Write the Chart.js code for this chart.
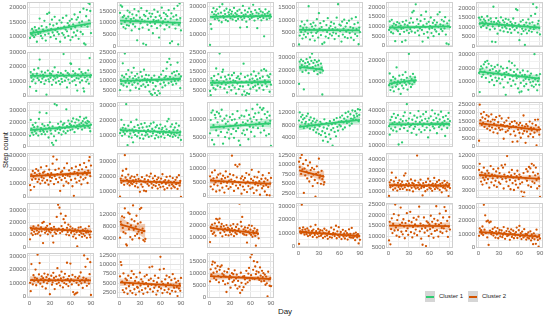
<!DOCTYPE html>
<html>
<head>
<meta charset="utf-8">
<script src="https://cdn.jsdelivr.net/npm/chart.js@4.4.1/dist/chart.umd.min.js"></script>
<style>
  body { margin: 0; background: #fff; font-family: "Liberation Sans", Arial, sans-serif; }
  #wrap { position: relative; width: 546px; height: 317px; overflow: hidden; }
  .axis-title { position: absolute; font-size: 7.5px; color: #1a1a1a; white-space: nowrap; }
  #ytitle { left: 4.5px; top: 150px; transform: translate(-50%, -50%) rotate(-90deg); }
  #xtitle { left: 285px; top: 311px; transform: translate(-50%, -50%); font-size: 8px; }
  .key { position: absolute; top: 291px; width: 10px; height: 11px; background: #d6d6d6; }
  .key span { position: absolute; left: 1px; right: 1px; top: 4.5px; height: 2px; }
  .keytxt { position: absolute; top: 293px; font-size: 6px; color: #1a1a1a; line-height: 7px; }
</style>
</head>
<body>
<div id="wrap">
  <div class="axis-title" id="ytitle">Step count</div>
  <div class="axis-title" id="xtitle">Day</div>
  <div class="key" style="left:425px"><span style="background:#2ecc71"></span></div>
  <div class="keytxt" style="left:439px">Cluster 1</div>
  <div class="key" style="left:468px"><span style="background:#d35400"></span></div>
  <div class="keytxt" style="left:482px">Cluster 2</div>
</div>
<script>
// daily step counts, one array per participant (day 1, 2, 3, ...)
const s01 = [9500,11200,10800,12600,10400,11800,9800,13200,10600,12100, 8200,11500,10900,12800,16200,11300,10200,13600,9400,12400, 11800,15400,10600,8600,13200,17800,12100,11000,18200,14200, 9800,12600,15800,11400,13800,10400,16800,12200,9200,14400, 11600,13000,10800,15600,8200,12800,14800,11200,16400,10600, 13400,9600,12400,17200,11800,14600,10200,13800,15400,8800, 12600,16000,9800,14200,11400,17600,13200,10400,15800,12000, 16600,9200,14800,18400,11600,13600,15200,10800,19600,7600, 14000,7200,17000,19200,13400,21600,15600,21200,18800,11200];
const s02 = [14200,17400,9600,16800,12400,8200,13000,10400,7600,11800, 9000,15200,12600,8800,14400,10200,11600,6800,13600,9400, 12000,15800,8400,11000,13200,2600,10800,14800,7400,12200, 9800,16200,11400,8000,1200,13400,10600,12800,700,15000, 9200,11800,7000,14000,10000,12600,8600,13800,5600,11200, 15600,9600,12400,10800,7800,14600,11000,3800,13000,8800, 12000,16400,9800,10600,14200,7200,11600,13600,9000,12800, 10400,15400,8200,1400,11800,14000,2200,9400,12600,16000, 10000,7600,13200,11400,17200,900,9200,18200,12000,6800];
const s03 = [2500,17200,13800,25800,22400,28600,24200,20800,26400,23600, 27800,21200,24800,19800,29600,22600,25400,18600,31400,23000, 21800,26800,24400,20200,28200,22800,19400,25600,23800,27400, 21400,24600,26200,20600,23400,28800,22200,25000,19600,24000, 26600,21000,23200,27600,14800,22000,25200,20400,30200,23600, 21600,27000,24200,19000,15200,25800,22400,28400,20800,23800, 26000,21800,24600,31000,22600,19800,27200,23000,25400,14400, 21200,24800,28000,22200,26400,20000,23400,25600,21600,8600, 24400,27800,22800,20600,25000,23200,26200,21400,24000,22600];
const s04 = [200,3800,7600,5200,9400,2600,6800,4200,8200,5600, 3200,7000,9800,4600,15600,6200,2200,8400,5000,7400, 3600,9000,6400,1800,7800,4800,10400,5400,3000,12800, 6600,8800,4000,7200,400,5800,9600,1000,6000,3400, 8000,5200,10800,2800,6800,4400,7600,9200,3800,6400, 5000,8600,2400,7000,4600,11000,6200,16400,3600,8200, 5600,7800,1400,9400,4200,6600,10200,3200,7400,5400, 8800,2800,6000,9800,4800,7200,3000,10600,5800,6800, 2000,8400,4400,11200,6400,3600,9000,300,7000,5200];
const s05 = [8200,12600,9400,7000,13400,10200,6400,11400,9000,2400, 10800,8400,12200,7600,9800,11600,6000,10400,8800,2000, 12400,9200,7200,11000,2800,13000,8000,10600,9600,6600, 11800,8600,14200,7400,17200,12000,18000,9400,6800,21400, 10000,13600,7800,11200,5400,9000,12800,15800,8200,2200, 10600,6200,13800,9600,17600,11400,7000,4200,12400,8800, 10200,14600,6600,9200,11800,5000,13200,8400,10800,7400, 12000,16200,9800,6000,17400,11000,8600,13400,7600,10400, 12600,9000,14800,5800,1200,11600,10000,800,13000,9600];
const s06 = [14800,11600,13800,9800,15200,12400,10600,14000,11200,13200, 12000,9400,15600,10800,13600,11400,8600,14400,12800,2200, 10200,20600,12600,9000,2000,14600,11800,6400,13000,10400, 12200,8200,15000,11000,9600,13400,7600,12400,10000,14200, 9200,11600,7200,13800,10800,8800,12600,6800,11400,9800, 14400,10600,8400,12000,19400,9400,18800,7000,11200,3000, 10200,12800,6200,9000,13600,7800,11000,500,8600,12200, 6600,10400,14000,8000,11800,9200,15800,7400,12400,22000, 8800,10600,16800,9600,20200,7000,11600,13200,9400,6000];
const s07 = [6000,16200,12400,9800,14600,11000,17800,13200,8400,3200, 15000,12000,18800,10600,24800,13800,9200,16400,11600,14200, 12800,8000,15800,10400,600,13400,17200,11200,9600,15200, 12200,14800,7400,16600,10800,13000,19400,11800,8800,14000, 12600,16000,10000,13600,7800,15400,11400,9400,14400,28600, 13200,10200,17000,12400,5600,15600,11000,14600,8600,22200, 21800,12800,9800,16800,13800,10600,15200,7200,12000,3400, 14200,11600,18200,9000,13000,16200,10400,14800,5000,2800, 12400,15600,9600,13600,11000,17400,8200,25800,12800,14000];
const s08 = [5000,10400,8200,12600,19200,7400,11800,24400,9000,13400, 6800,10800,15600,8600,12000,4800,9600,14200,7800,11200, 16800,9000,12400,6200,10600,13600,8400,11600,5600,9800, 14600,7200,12200,10200,8000,15800,11000,6600,13000,9200, 10600,7600,12800,4200,9400,3000,11400,2400,8800,5400, 12600,3400,7000,10000,2200,9600,4600,11800,3200,8200, 13200,10400,6400,15200,9000,11600,7400,12400,16400,19800, 10800,8600,21600,12000,18400,9400,13800,7800,11200,14600, 9800,12800,8400,15000,19600,10200,13400,11000,6000,12200];
const s09 = [4400,2200,11200,7600,9800,6000,12400,8800,5200,16400, 10200,7200,13400,9000,24400,6400,11600,8200,14600,15800, 9400,5800,12000,7800,10600,3600,8800,13000,6600,11000, 9200,4800,12800,7400,10000,14000,6200,9600,3000,11400, 8400,12200,5400,10800,7000,13600,9200,2400,6800,19000, 4200,11800,2000,9400,3200,12600,7600,2800,10400,5600, 13200,8600,11000,6400,14800,9800,7200,12400,4600,10600, 8000,13800,6000,11200,9000,15400,7400,12000,5000,16000, 10000,8400,15200,6800,12600,9400,11800,4000,13400,7800];
const s10 = [9000,26800,21400,28400,24000,18600,27200,4600,22800,25600, 19800,28800,23200,26400,17600,24800,30200,21600,27400,33200, 22400,25800,19200,28000,23600,20400,26600,16800,24200,27600, 21000,18000,25200,22000,500,19600];
const s11 = [8400,13800,6200,10600,9000,7400,12200,5600,9800,11400, 7800,16600,8800,10200,6600,12800,9400,4400,11000,8200, 13200,7000,10800,9600,14400,8600,11800,6400,10000,22800, 9200,12400,7600,11200,8800,13600,10400,9800,12000,10600];
const s12 = [16400,2600,18800,21200,13600,19800,15200,22600,17400,24400, 12800,20400,25200,16000,23000,9800,18400,14200,21600,11400, 19200,15600,7600,20800,13000,17800,10600,22200,16800,12400, 18000,8800,21000,14800,11800,19600,6000,16200,13400,600, 17000,20000,9400,15800,24800,12000,18600,7000,23600,14000, 10800,17200,21800,8200,15400,12600,19000,5200,13800,2400, 16600,9200,3000,14600,18200,11000,6800,15000,12200,8400, 13800,17600,4200,11600,14400,9600,16000,7200,12800,10200, 6400,30000,11800,8000,14800,3800,10400,12600,7800,15600];
const s13 = [8600,21800,14400,11200,17600,9400,15800,12600,19400,10600, 13800,16200,8800,22600,28000,12400,15000,10000,18200,13200, 11800,16800,9800,14600,27400,12000,17400,7200,15400,19800, 13000,10400,2800,16400,1000,8200,35000,12800,4600,34000, 14200,18600,11000,16000,13600,20400,9600,15200,17800,12200, 19000,14800,10800,30600,16600,12600,21200,15600,18400,13400, 17200,20600,14000,23000,16800,11600,19600,15800,22200,17000, 14600,21400,18000,24400,16200,19200,13800,20800,17600,22800, 15400,19800,23600,18800,21000,16400,20200,15000,12400,17800];
const s14 = [11400,13800,20400,9600,15000,12200,17000,10800,14400,31000, 12600,3200,16400,9000,13400,11000,18800,8400,14000,5200, 12000,15600,10200,13200,20600,9200,16800,11600,14800,8000, 12800,17600,10400,15200,7600,13000,18200,9800,11800,15800, 10600,13600,8800,16200,12400,17800,9400,14200,11200,18600, 13000,7800,15400,10000,16600,12000,8600,14600,11400,17200, 9000,13800,15000,10800,12600,8200,16000,11800,14000,19400, 10200,21000,12800,9400,15800,11000,17400,8800,13600,10600, 15200,9600,18000,11600,13400,8400,16400,10000,12200,6800];
const s15 = [6200,9800,11800,4400,12400,8400,3200,11200,10400,7000, 12000,9200,5600,11600,8000,10800,6600,12600,9600,3400, 7800,10200,5200,8800,11000,6400,9400,7200,4800,10600, 8200,6000,9800,11400,7400,5000,10000,8600,6800,9000, 12200,7600,4200,10400,3000,8400,11000,6200,9200,7000, 10800,5800,8800,12400,7200,9600,4600,11200,8000,10200, 6600,9400,12800,7800,10600,5400,11600,8600,9800,14000, 7600,11800,9000,13200,6400,10000,12600,8200,13000,7000, 11400,9200,5600,10400,12000,8800,6000,11000,9600,2800];
const s16 = [9400,12000,7600,10600,8800,11200,9800,7000,10200,8400, 9000,10800,7400,11600,8200,9600,6800,10400,8600,7800, 9200,6400,10000,7200,8800,5600,9400,6600,8000,5200, 7600,9000,4800,8400,6000,3000,7200,9800,5400,4200, 8600,6800,2600,7800,5000,9200,3600,6400,8200,1400, 7000,9600,5800,8400,4400,10200,7400,6200,9000,8000, 10400,7600,9200,11000,6600,8800,10000,7200,11800,9400, 8600,10600,12200,9000,7800,11400,10000,8400,12600,9800, 11000,10400,12400,9600,11600,10800,13000,9200,11200,12800];
const s17 = [26400,19000,31800,24200,34400,28800,22600,37200,30000,25400, 33600,21800,28200,36000,10400,29600,23800,32400,26800,12200, 30800,35200,24600,38400,27600,31200,45600,22200,29000,33000, 25800,37800,27200,20600,32000,28400,24000,35600,26000,30400, 18800,33800,27800,39600,23400,29800,34800,21200,31400,26600, 36800,28600,23000,32800,38800,25200,30600,16600,33200,27400, 22800,35000,29200,40200,26200,31600,24400,37400,28000,33400, 20200,30200,36400,25600,32200,27000,39000,23600,29400,34200, 26800,31000,17800,35400,28600,24800,32600,38000,27600,30800];
const s18 = [3400,24800,15600,19400,12800,17200,14000,20400,11600,16400, 13200,18600,10600,15200,17800,12000,9600,14800,19000,11200, 16000,8400,13600,15800,10400,17400,12400,7800,14400,11000, 18200,9800,13000,16600,10200,12600,4600,14200,11800,8600, 15400,12200,9400,17000,10800,13400,7200,11400,14600,2800, 12000,9000,15000,6400,11600,13800,3000,10000,12800,8000, 14000,5200,10600,12400,7600,18400,9200,11800,2200,13200, 8800,12000,6000,10400,14800,7400,11200,9600,13600,5600, 10800,8200,15800,12600,700,9400,16000,11400,7000,10200];
const s19 = [8400,4800,16200,12400,18800,14600,7200,17400,13000,20200, 15800,10800,19000,12600,16800,9600,21400,14200,11800,17600, 13400,18400,10200,15600,22400,12000,16600,8800,19800,14400, 11400,17200,13800,24200,29400,9200,15000,19600,12800,27200, 16400,10600,20600,14000,4200,17800,12200,18600,15200,8000, 21000,13600,16000,11000,24400,15400,9800,19200,14800,17000, 12200,20800,7600,16800,600,18200,13200,22000,10400,17400, 15800,19400,11600,23200,14200,9000,20000,16400,12600,24600, 18000,13800,21600,16200,10000,19000,26400,29000,15000,22800];
const s20 = [6200,18400,15600,20400,23800,16800,14200,34400,19200,25000, 17600,15000,21200,16200,13800,18800,15400,20000,14600,17200, 16000,19600,13200,17800,15200,21000,12400,18200,16600,9400, 17000,14400,19400,12800,16400,10200,18000,15800,9800,20600, 14800,17400,13600,19800,16200,21800,15000,12200,18600,14000, 16800,20200,13400,15600,17800,11600,19000,14200,16400,12600, 18400,15200,21400,13000,16600,11000,17400,14800,19600,12000, 15800,17000,13800,20000,16000,11800,14400,18800,13200,16200, 12400,17600,14600,19200,11400,15400,20800,13600,16800,6000];
const s21 = [7200,3400,5800,8600,2400,6400,4200,9400,5000,1600, 6800,3800,7800,5400,2000,8200,4600,6200,3000,7400, 5200,1200,6600,9000,3600,4800,7000,2600,5600,8000, 3200,6000,14800,4400,7600,1800,5400,11400,3800,6800, 10800,2800,5000,11600,4000,6400,800,7200,3400,5800, 2200,6600,4600,8400,1400,5200,3600,7800,4800,2600, 6200,9600,3000,5600,1000,7000,4200,5000,2000,6800, 3800,8800,5400,400,4400,6200,2800,7600,3600,5200, 1600,6400,4000,300,5800,3200,8400,200,4600,6600];
const s22 = [10800,9400,11800,7600,12600,8800,10200,2600,9000,7200, 11200,8200,6400,9800,7800,5600,10600,8600,6800,9200, 4400,7400,8800,6000,1600,7600,9600,5200,8000,11600, 6600,7200,5000,8400,6200,7000,4800,5400];
const s23 = [5400,18200,13600,20400,27400,14800,11200,19000,16000,12600, 22600,15400,10400,17800,13800,20000,11800,16600,14200,18800, 12000,15800,24600,13400,26800,16400,11000,19400,14600,17200, 10800,15200,21000,13000,17600,9600,16800,14000,19800,12400, 15600,43600,13200,18000,11600,16200,20800,12800,14400,5800, 17400,13600,15000,9800,18400,14800,11400,21600,16000,13000, 19200,12200,15800,10200,17000,14200,22400,11800,16400,13800, 18600,12600,15400,20200,11000,16800,14600,8800,17800,13200, 15000,19600,12400,16200,10600,18000,14000,5200,16600,12800];
const s24 = [8200,9800,6800,5200,7600,4400,6200,8800,5600,7200, 6400,4800,8000,5800,7400,3600,6600,9200,5000,7000, 6000,8400,4200,6800,5400,7800,3800,6200,8600,5000, 7400,4600,6400,9400,5800,8800,3400,7000,9600,6000, 5200,11800,6600,4000,7600,5600,3200,6800,8200,4800, 6200,3000,7200,5400,4400,6600,8000,3600,5800,7000, 4600,6400,2600,5000,1200,7400,2400,1000,6000,8400, 5400,7800,4200,9000,6600,8600,3800,9800,5200,7600, 9400,4800,6800,8800,5600,3400,7200,6200,4000,1200];
const s25 = [6400,15600,11200,13800,9800,16800,12400,14800,10600,15200, 13400,11000,17600,12200,14600,9400,16000,12800,19600,3400, 20400,14200,11600,15800,13000,17200,10400,14000,12600,18800, 11800,15400,13600,9000,3800,16400,12000,14400,10800,24400, 13200,34200,15000,31800,11400,27000,17000,12600,14800,22600, 13800,19800,25200,10200,15600,12200,18200,9600,14200,16600, 11600,13000,15200,8600,12800,10400,14400,7200,12000,600, 13600,15800,9800,12400,16200,11200,8400,14000,10600,13200, 9200,15000,11800,7600,13400,12000,16800,10000,8000,12600];
const s26 = [4200,9400,8600,11200,7400,6000,10800,13800,5600,2000, 1600,9000,12400,7000,12000,4400,8200,10200,3600,14800, 6800,9600,4800,7800,11400,5400,8800,6200,4000,13600, 9200,14000,5800,7200,3400,6400,3000,3800];
const s27 = [6000,18400,15200,20600,12800,17600,14000,21600,11400,25400, 19000,24800,16400,22400,25600,13600,18800,21200,10800,16000, 19400,14600,17200,12000,20200,15800,18000,11600,16800,14400, 19800,12400,17400,15000,21000,11000,16200,13800,18600,12600, 20800,15400,17000,38000,14200,22800,19200,27000,13000,16600, 12200,18200,15600,11800,5600,17800,14800,20000,13400,16400, 12000,19600,10400,15200,13200,17400,11200,3000,14600,16200, 12800,9200];
const s28 = [2000,13600,11200,9800,31000,12400,14200,10600,8800,12800, 11000,9200,13400,7800,12000,10200,8400,14800,9600,11600, 7200,12600,10000,8600,16000,11400,6800,9400,13000,7600, 10800,12200,8000,9000,11800,6400,10400,13200,7400,9800, 12000,8200,5800,10600,11000,7000,9200,14000,6600,8800, 10200,12600,7800,9600,15400,6200,11200,8400,14400,7200, 9000,10800,5600,8600,12400,7400,9800,6000,11400,8000, 10000,5200,8800,12800,7000,9400,6600,13800,8200,6400, 9600,7600,4800,10400,8400,6800,9200,2400,7800,5000];
const s29 = [8200,16800,6400,13400,18400,11600,15800,20400,12800,24800, 14200,10400,17600,13000,19800,9800,15400,23400,12200,16400, 11000,18000,14600,9200,16200,12600,20800,13800,10800,17200, 15000,21400,12000,16600,9600,14400,18600,11400,15600,13200, 17800,10600,14800,19200,23800,12400,16000,9000,13600,6200, 15200,18800,11800,14000,5600,17000,12800,16400,10200,15600, 13400,19600,11200,16800,14200,9400,18200,12600,15800,24000, 13000,17400,10000,15400,20600,12200,16200,14000,11600,18800, 13800,23600,15000,21800,12400,17200,9800,14600,19000,13200];
const s30 = [8600,14200,11400,12800,10200,15600,9200,31800,13200,24000, 10800,19400,7400,20000,1800,18600,12400,19200,9800,11600, 13800,8800,10600,15000,7200,12000,9600,14400,6800,11200, 13000,8200,10400,12600,7600,9400,15200,11000,6400,10000, 12200,8400,14000,9000,11800,5600,10800,13400,7800,9600, 12400,6800,10200,8800,11400,14800,7000,9400,12800,16000, 8200,10600,6200,11800,9000,7400,13600,8600,10000,5800, 9800,7200,11200,6600,8400,12000,5200,9600,7000,2400, 10400,6000,8800,2600,13200,7600,5400,500,9200,6600];
const s31 = [10200,4000,24000,12400,9000,15800,11600,14000,20000,8400, 13200,31000,11000,16400,24800,9600,12800,15000,7400,13600, 10800,17000,12200,6000,14400,9800,16200,11400,13000,1800, 12000,15400,8800,10600,17600,13800,5600,11800,14800,9400, 21000,12600,10400,15600,8200,13400,18400,11200,6800,14200, 10000,16800,12400,9200,25000,13000,7800,15200,11000,24400, 12800,9000,16000,3400,11600,1600,14600,2400,10200,3000, 13600,8600,15000,11400,17800,9800,12200,6400,14000,30400, 10800,22000,13000,8000,27800,12000,9600,16600,25400,1200];
const s32 = [6800,10600,9800,5400,3200,7600,2600,4800,6200,3600, 5800,2200,7000,4200,5000,3000,6400,8200,2400,4600, 7400,3400,5600,2000,6600,4000,3800,5200,2800,7800, 4400,6000,3200,5400,2200,4800,6800,3600,5000,7200, 2600,4200,5800,9200,3400,6200,4600,9400,2800,5600, 3800,7000,4400,2000,5200,3000,6400,4000,8600,12000, 3600,5400,2400,4800,8800,3200,6000,4200,7000,2600, 5000,3400,6600,2200,4600,5800,3000,7400,4400,3800, 6200,2800,5200,4000,1600,5600,3600,4800,3000,6400];
const s33 = [6800,11800,9600,13800,15000,10400,8200,14600,12200,7400, 10800,13200,9000,6400,11600,12800,8600,13400,10000,7000, 9400,11000,5600,8800,2400,10600,6000,12000,7800,9200, 4200,8400,10200,6600,9800,7200,11400,5200,8000,9600, 3800,7000,8600,4600,2000,10400,6200,3200,8800,4400, 9000,7600,5800,11200,8200,6400,10000,12400,7200,16800, 9400,18000,8000,11600,15200,7800,13000,9800,11000,14800, 8400,10600,7400,12600,9200,6800,11200,8600,10200,7000, 9600,5400,8800,6000,600,10800,7600,5000,8200,4800];

const stepSeries = [s01,s02,s03,s04,s05,s06, s07,s08,s09,s10,s11,s12, s13,s14,s15,s16,s17,s18,
                    s19,s20,s21,s22,s23,s24, s25,s26,s27,s28,s29,s30, s31,s32,s33];
const cluster = [1,1,1,1,1,1, 1,1,1,1,1,1, 1,1,1,1,1,2, 2,2,2,2,2,2, 2,2,2,2,2,2, 2,2,2];

// linear fit: value at first and last day, CI half width
const fitStart = [11100,10900,22400,6100,9400,12000, 13600,9700,8800,22600,9200,17400, 13300,13500,7800,7400,28000,13700,
                  15100,17100,5600,8500,15500,6900, 15300,8600,17800,11000,15000,11500, 12200,5200,9000];
const fitEnd   = [14500,10000,23100,5900,10000,9600, 13900,11000,9200,20400,10800,12300, 17300,11800,8900,9600,28300,9800,
                  17500,15500,4400,6800,15000,5900, 12800,6300,13200,7800,14800,8000, 12000,4300,7800];
const bandMid  = [630,840,950,700,840,840, 1050,950,880,1800,1120,1260, 1360,880,550,550,1260,1000,
                  1220,900,590,820,1150,460, 1260,1250,1410,920,900,1050, 1360,460,740];
const bandEdge = [1260,1680,1900,1400,1680,1680, 2100,1900,1760,3600,2240,2520, 2720,1760,1100,1100,2520,2000,
                  2440,1800,1180,1640,2300,920, 2520,2500,2820,1840,1800,2100, 2720,920,1480];

// free y scales per panel
const yMin  = [6400,-200,1000,-800,-600,-600, -1000,1300,1200,-1500,3000,-1000, -700,2000,2500,1000,8200,-300,
               -1000,5200,-800,1260,3400,930, -600,800,1100,-1000,4700,-500, -1000,1090,-100];
const yMax  = [21900,18800,33000,17300,22600,23100, 30000,25200,25200,34500,23700,31600, 36700,32500,14700,15300,47500,26400,
               32000,35900,15800,13100,46000,12600, 35600,15600,38600,32200,25500,33200, 32200,13000,18600];
const yStep = [5000,5000,10000,5000,5000,5000, 10000,5000,5000,10000,10000,10000, 10000,10000,5000,4000,10000,5000,
               10000,10000,5000,2500,10000,3000, 10000,4000,10000,10000,5000,10000, 10000,2500,5000];
const dayStep = 30;

const lineColour = ['#2ecc71', '#d35400'];
const bandColour = ['rgba(46,204,113,0.35)', 'rgba(211,84,0,0.3)'];

Chart.defaults.font.family = '"Liberation Sans", Arial, sans-serif';

const colLeft = [27, 117, 207, 296, 386, 476];
const rowTop = [2, 52, 102, 153, 203, 253];
const PW = 67, PH = 45, YW = 24, PAD_T = 7, PAD_R = 6, PAD_B = 7, XH = 12;

const isMajor = (v, step) => Math.abs(v / step - Math.round(v / step)) < 1e-6;

// major ticks plus a minor line halfway between them
function gridTicks(scale, step) {
  var half = step / 2, t = [];
  for (var k = Math.ceil(scale.min / half); k * half <= scale.max; k++) t.push({ value: k * half });
  scale.ticks = t;
}

// panel border
const frame = {
  id: 'frame',
  afterDraw(chart) {
    const a = chart.chartArea, ctx = chart.ctx;
    ctx.save();
    ctx.strokeStyle = '#cfcfcf';
    ctx.lineWidth = 1;
    ctx.strokeRect(Math.round(a.left) + 0.5, Math.round(a.top) + 0.5, Math.round(a.width) - 1, Math.round(a.height) - 1);
    ctx.restore();
  }
};

stepSeries.forEach(function (vals, i) {
  var row = Math.floor(i / 6), col = i % 6;
  var showX = i + 6 >= stepSeries.length;
  var c = cluster[i] - 1;
  var n = vals.length;
  var mx = (1 + n) / 2;
  var fm = (fitStart[i] + fitEnd[i]) / 2;

  var cv = document.createElement('canvas');
  var w = YW + PW + PAD_R, h = PAD_T + PH + (showX ? XH : PAD_B);
  cv.width = w; cv.height = h;
  cv.style.cssText = 'position:absolute;left:' + (colLeft[col] - YW) + 'px;top:' + (rowTop[row] - PAD_T) + 'px;width:' + w + 'px;height:' + h + 'px';
  document.getElementById('wrap').appendChild(cv);

  try {
    new Chart(cv, {
      type: 'line',
      data: {
        datasets: [
          {
            data: [{x: 1, y: fitStart[i]}, {x: n, y: fitEnd[i]}],
            borderColor: lineColour[c], borderWidth: 1.8, pointRadius: 0, fill: false
          },
          {
            data: [{x: 1, y: fitStart[i] + bandEdge[i]}, {x: mx, y: fm + bandMid[i]}, {x: n, y: fitEnd[i] + bandEdge[i]}],
            borderColor: 'transparent', borderWidth: 0, pointRadius: 0, tension: 0.4,
            fill: '+1', backgroundColor: bandColour[c]
          },
          {
            data: [{x: 1, y: fitStart[i] - bandEdge[i]}, {x: mx, y: fm - bandMid[i]}, {x: n, y: fitEnd[i] - bandEdge[i]}],
            borderColor: 'transparent', borderWidth: 0, pointRadius: 0, tension: 0.4, fill: false
          },
          {
            data: vals.map(function (v, k) { return {x: k + 1, y: v}; }),
            showLine: false, pointRadius: 1.15, pointBorderWidth: 0,
            pointBackgroundColor: lineColour[c], borderColor: lineColour[c]
          }
        ]
      },
      options: {
        responsive: false,
        animation: false,
        events: [],
        layout: { padding: { top: PAD_T, right: PAD_R, bottom: showX ? 0 : PAD_B, left: 0 } },
        plugins: { legend: { display: false }, tooltip: { enabled: false } },
        scales: {
          x: {
            type: 'linear', min: -3.45, max: 94.45,
            afterBuildTicks: function (s) { gridTicks(s, dayStep); },
            afterFit: function (s) { s.height = showX ? XH : 0; },
            border: { display: false },
            grid: {
              drawTicks: false,
              color: function (ctx) { return ctx.tick && isMajor(ctx.tick.value, dayStep) ? '#e4e4e4' : '#f1f1f1'; }
            },
            ticks: {
              display: showX, autoSkip: false, maxRotation: 0,
              padding: 2, color: '#666', font: { size: 6 },
              callback: function (v) { return isMajor(v, dayStep) ? String(v) : ''; }
            }
          },
          y: {
            min: yMin[i], max: yMax[i],
            afterBuildTicks: function (s) { gridTicks(s, yStep[i]); },
            afterFit: function (s) { s.width = YW; },
            border: { display: false },
            grid: {
              drawTicks: false,
              color: function (ctx) { return ctx.tick && isMajor(ctx.tick.value, yStep[i]) ? '#e4e4e4' : '#f1f1f1'; }
            },
            ticks: {
              autoSkip: false, padding: 1, color: '#666', font: { size: 6 },
              callback: function (v) { return isMajor(v, yStep[i]) ? String(v) : ''; }
            }
          }
        }
      },
      plugins: [frame]
    });
  } catch (error) {
    console.log(error);
  }
});
</script>
</body>
</html>
